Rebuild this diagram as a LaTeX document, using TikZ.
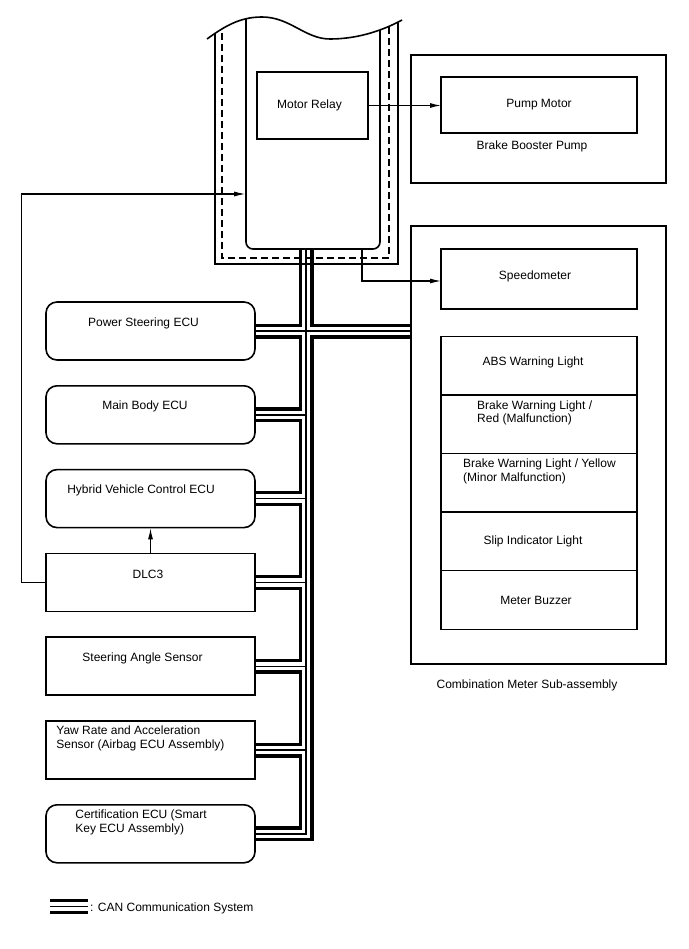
\documentclass[tikz,border=0pt]{standalone}
\usepackage{fontspec}
\setmainfont{Liberation Sans}
\usetikzlibrary{positioning,arrows.meta,backgrounds}

\begin{document}
\begin{tikzpicture}[
  x=1pt, y=-1pt,
  node distance=24.2pt and 0pt,
  font=\fontsize{12}{13.5}\selectfont,
  ecu/.style={draw,line width=1.6pt,rounded corners=11pt,minimum width=209pt,minimum height=58pt,inner sep=0pt},
  sensor/.style={ecu,sharp corners},
  cell/.style={draw,line width=1.4pt,minimum width=196pt,minimum height=58.6pt,inner sep=0pt,outer sep=0pt},
  frame/.style={draw,line width=2.2pt,minimum width=255pt,inner sep=0pt},
  lbl/.style={inner sep=0pt,align=left},
  arr/.style={-{Latex[length=11pt,width=5pt]},line width=1.1pt},
  canout/.style={line width=15pt},
  canin/.style={line width=8.5pt,white},
  canmid/.style={line width=1.4pt}
]
\useasboundingbox (0,0) rectangle (688,949);

\begin{scope}
\clip (207,39) .. controls (225,26) and (240,17) .. (262,17)
  .. controls (290,17) and (305,39) .. (330,39)
  .. controls (355,39) and (380,32) .. (402,20) -- (402,300) -- (207,300) -- cycle;
\node[draw,line width=1.6pt,rounded corners=7pt,minimum width=134pt,minimum height=249pt,inner sep=0pt] (skid) at (313,124.5) {};
\draw[line width=1.5pt] (215,0) |- (398,264) -- (398,0);
\draw[line width=1.5pt,dash pattern=on 7pt off 4pt] (222,0) |- (389,258) -- (389,0);
\end{scope}
\draw[line width=1.6pt] (207,39) .. controls (225,26) and (240,17) .. (262,17)
  .. controls (290,17) and (305,39) .. (330,39)
  .. controls (355,39) and (380,32) .. (402,20);

\node[draw,line width=1.5pt,minimum width=111pt,minimum height=67pt] (relay) at (312.5,105.5) {};
\node[lbl] (relayT) at ([xshift=-3pt]relay.center) {Motor Relay};

\node[frame,minimum height=128pt] (bbp) at (538.5,119) {};
\node[cell,minimum height=56pt] (pump) at (539,105) {Pump Motor};
\node[lbl] (bbpT) at ([xshift=-7pt,yshift=-13pt]pump.south) {Brake Booster Pump};

\node[frame,minimum height=438pt] (meter) at (538.5,445) {};
\node[lbl] (meterT) at ([xshift=-11.5pt,yshift=-20pt]meter.south) {Combination Meter Sub-assembly};
\node[cell,minimum height=60pt] (spd) at (539,279) {};
\node[lbl] (spdT) at ([xshift=-4pt,yshift=3pt]spd.center) {Speedometer};
\node[cell] (abs) at (539,365.6) {};
\node[cell,below=0pt of abs] (bwr) {};
\node[cell,below=0pt of bwr] (bwy) {};
\node[cell,below=0pt of bwy] (slip) {};
\node[cell,below=0pt of slip] (buz) {};
\node[lbl] (absT) at ([xshift=-6pt,yshift=3.5pt]abs.center) {ABS Warning Light};
\node[lbl,anchor=west] (bwrT) at ([xshift=36pt,yshift=11.5pt]bwr.west) {Brake Warning Light /\\Red (Malfunction)};
\node[lbl,anchor=west] (bwyT) at ([xshift=22pt,yshift=11.5pt]bwy.west) {Brake Warning Light / Yellow\\(Minor Malfunction)};
\node[lbl] (slipT) at ([xshift=-6pt]slip.center) {Slip Indicator Light};
\node[lbl] (buzT) at ([xshift=-3pt]buz.center) {Meter Buzzer};

\node[ecu] (ps) at (150.5,331) {};
\node[ecu,below=of ps] (mb) {};
\node[ecu,below=of mb] (hv) {};
\node[sensor,below=of hv] (dlc) {};
\node[sensor,below=of dlc] (sas) {};
\node[sensor,below=of sas] (yaw) {};
\node[ecu,below=of yaw] (cert) {};
\node[lbl] (psT) at ([xshift=-7pt,yshift=8pt]ps.center) {Power Steering ECU};
\node[lbl] (mbT) at ([xshift=-5.5pt,yshift=8pt]mb.center) {Main Body ECU};
\node[lbl] (hvT) at ([xshift=-9.5pt,yshift=8pt]hv.center) {Hybrid Vehicle Control ECU};
\node[lbl] (dlcT) at ([xshift=-2.5pt,yshift=8pt]dlc.center) {DLC3};
\node[lbl] (sasT) at ([xshift=-8pt,yshift=8pt]sas.center) {Steering Angle Sensor};
\node[lbl,anchor=west] (yawT) at ([xshift=11pt,yshift=11.5pt]yaw.west) {Yaw Rate and Acceleration\\Sensor (Airbag ECU Assembly)};
\node[lbl,anchor=west] (certT) at ([xshift=30pt,yshift=11.5pt]cert.west) {Certification ECU (Smart\\Key ECU Assembly)};

\coordinate (tk) at (306,0);
\coordinate (lgA) at (50,906.5);
\coordinate (lgB) at (88,906.5);
\node[lbl,anchor=west] (lgT) at ([xshift=2pt,yshift=-2pt]lgB) {: CAN Communication System};

\begin{scope}[on background layer]
\foreach \lay in {canout,canin,canmid}{
  \draw[\lay] (skid.south -| tk) -- (cert.east -| tk) -- (cert.east);
  \draw[\lay] (ps.east) -- (ps.east -| meter.west);
  \foreach \e in {mb,hv,dlc,sas,yaw}
    \draw[\lay] (\e.east) -- (\e.east -| tk);
  \draw[\lay] (lgA) -- (lgB);
}
\end{scope}

\draw[arr] (relay.east) -- (relay.east -| pump.west);
\draw[arr] ([xshift=49pt]skid.south) |- ([yshift=-2pt]spd.west);
\draw[arr] (dlc.north) -- (dlc.north |- hv.south);
\draw[arr] (dlc.west) -- ++(-24,0) |- (skid.west |- 0,194);
\end{tikzpicture}
\end{document}
